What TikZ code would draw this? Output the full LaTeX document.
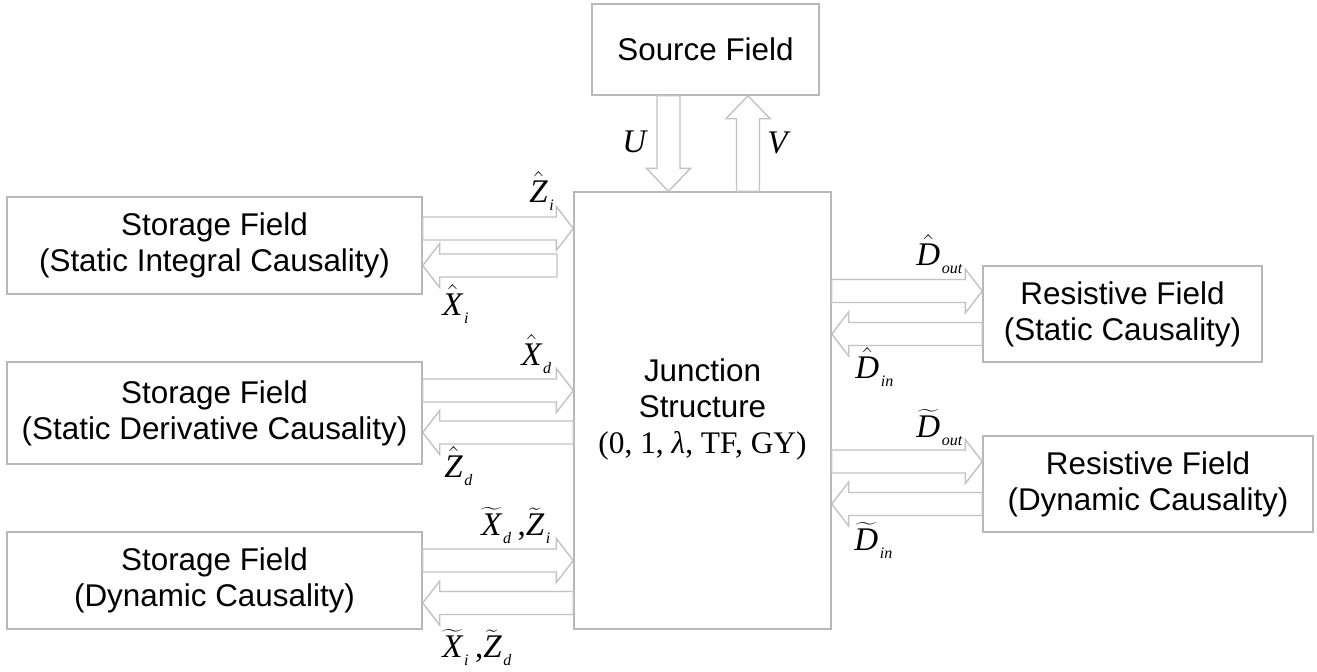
\documentclass[tikz,border=0pt]{standalone}
\usepackage{fontspec}
\setmainfont{Liberation Sans}
\newfontfamily\timesfont{Liberation Serif}
\usetikzlibrary{calc}
\colorlet{boxgray}{black!28}
\colorlet{arrowgray}{black!24}
\def\sublbl#1{\raisebox{-1.5pt}{\kern0.8pt\fontsize{8}{8}\selectfont\itshape #1}}
\def\hatlbl#1#2{$\hat{\mbox{\itshape #1}}_{\sublbl{#2}}$}
\def\tillbl#1#2{$\widetilde{\mbox{\itshape #1}}_{\sublbl{#2}}$}

\begin{document}
\begin{tikzpicture}[x=0.5pt, y=-0.5pt,
		field/.style={draw=boxgray, line width=0.7pt, inner sep=0pt, align=center, font=\fontsize{15.7}{18}\selectfont},
		fat/.style={draw=arrowgray, line width=0.7pt,
			to path={let \p1=($(\tikztotarget)!#1!(\tikztostart)$) in
				($(\tikztostart)!5.75pt!90:(\tikztotarget)$) -- ($(\p1)!5.75pt!-90:(\tikztostart)$)
				-- ($(\p1)!11pt!-90:(\tikztostart)$) -- (\tikztotarget) -- ($(\p1)!11pt!90:(\tikztostart)$)
				-- ($(\p1)!5.75pt!90:(\tikztostart)$) -- ($(\tikztostart)!5.75pt!-90:(\tikztotarget)$) -- cycle}},
		fat/.default=8.5pt,
		lbl/.style={inner sep=0pt, anchor=base west, font=\timesfont\fontsize{16.5}{16.5}\selectfont}]
		%%%%% START %%%%%
		
		\useasboundingbox (0,0) rectangle (1317,671);
		
		\node[field, minimum width=113.5pt, minimum height=45.5pt] (src) at (705.5,49.5) {Source Field};
		\node[field, minimum width=128.5pt, minimum height=218.5pt] (js) at (702.5,410.5)
			{\raisebox{-3.5pt}{\begin{tabular}{@{}c@{}}Junction\\Structure\\{\timesfont(0, 1, {\itshape λ}, TF, GY)}\end{tabular}}};
		
		\node[field, minimum width=207.5pt, minimum height=48.5pt] (s1) at (214.5,245.5) {Storage Field\\(Static Integral Causality)};
		\node[field, minimum width=207.5pt, minimum height=51pt] (s2) at (214.5,413) {Storage Field\\(Static Derivative Causality)};
		\node[field, minimum width=207.5pt, minimum height=48.5pt] (s3) at (214.5,580.5) {Storage Field\\(Dynamic Causality)};
		
		\node[field, minimum width=139.5pt, minimum height=48pt] (r1) at (1122.5,314) {Resistive Field\\(Static Causality)};
		\node[field, minimum width=165pt, minimum height=48pt] (r2) at (1148,484) {Resistive Field\\(Dynamic Causality)};
		
		% storage fields
		\coordinate (back1) at (557,265.5);
		\draw[fat] (s1.east |- 0,228.5) to (js.west |- 0,228.5);
		\draw[fat] (back1) to (s1.east |- 0,265.5);
		\draw[fat] (s2.east |- 0,390.5) to (js.west |- 0,390.5);
		\draw[fat] (js.west |- 0,432.5) to (s2.east |- 0,432.5);
		\draw[fat] (s3.east |- 0,560.5) to (js.west |- 0,560.5);
		\draw[fat] (js.west |- 0,603) to (s3.east |- 0,603);
		
		% resistive fields
		\draw[fat] (js.east |- 0,291) to (r1.west |- 0,291);
		\draw[fat] (r1.west |- 0,334) to (js.east |- 0,334);
		\draw[fat] (js.east |- 0,461.5) to (r2.west |- 0,461.5);
		\draw[fat] (r2.west |- 0,504) to (js.east |- 0,504);
		
		% source field
		\draw[fat=11.5pt] (src.south -| 668.5,0) to (js.north -| 668.5,0);
		\draw[fat=11.5pt] (js.north -| 748,0) to (src.south -| 748,0);
		
		\node[lbl] (u) at (622,152) {\itshape U};
		\node[lbl] (v) at (767,153) {\itshape V};
		
		\node[lbl] (zi) at (529,202) {\hatlbl{Z}{i}};
		\node[lbl] (xi) at (442,315) {\hatlbl{X}{i}};
		\node[lbl] (xd) at (521,365) {\hatlbl{X}{d}};
		\node[lbl] (zd) at (444,477) {\hatlbl{Z}{d}};
		\node[lbl] (xdzi) at (481,535) {\tillbl{X}{d}\,,\tillbl{Z}{i}};
		\node[lbl] (xizd) at (442,657) {\tillbl{X}{i}\,,\tillbl{Z}{d}};
		
		\node[lbl] (dout) at (916,265) {\hatlbl{D}{out}};
		\node[lbl] (din) at (855,378) {\hatlbl{D}{in}};
		\node[lbl] (tdout) at (916,437) {\tillbl{D}{out}};
		\node[lbl] (tdin) at (854,550) {\tillbl{D}{in}};
		
		%%%%% END %%%%%
	\end{tikzpicture}
\end{document}
